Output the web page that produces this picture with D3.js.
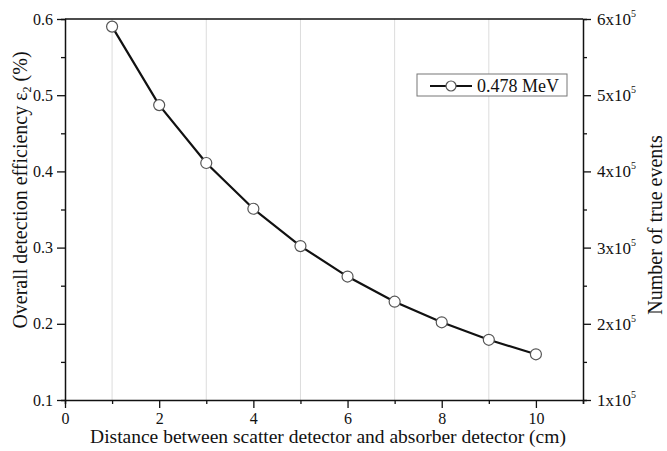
<!DOCTYPE html>
<html>
<head>
<meta charset="utf-8">
<script src="https://cdn.jsdelivr.net/npm/d3@7"></script>
<style>
  body { margin: 0; background: #fff; }
  svg text { font-family: "Liberation Serif", "Times New Roman", serif; fill: #111; }
</style>
</head>
<body>
<svg id="chart" width="667" height="451"></svg>
<script>
// distance (cm) vs overall efficiency (%)
var distances = [ 1, 2, 3, 4, 5, 6, 7, 8, 9, 10 ];
var efficiency = [ 0.590, 0.487, 0.411, 0.351, 0.302, 0.262, 0.229, 0.202, 0.179, 0.160 ];
var series_name = "0.478 MeV";
var x_ticks = [ 0, 2, 4, 6, 8, 10 ];
var y_ticks = [ 0.1, 0.2, 0.3, 0.4, 0.5, 0.6 ];
var right_ticks = [ 1, 2, 3, 4, 5, 6 ];   // x10^5

var MARGIN = { left: 65, right: 84, top: 19, bottom: 51 };
var width = 667, height = 451;

var svg = d3.select( "#chart" );

var x = d3.scaleLinear().domain( [ 0, 11 ] ).range( [ MARGIN.left, width - MARGIN.right ] );
var y = d3.scaleLinear().domain( [ 0.1, 0.6 ] ).range( [ height - MARGIN.bottom, MARGIN.top ] );
var y2 = d3.scaleLinear().domain( [ 1, 6 ] ).range( [ height - MARGIN.bottom, MARGIN.top ] );

// light grid at odd x
svg.append( "g" ).selectAll( "line" )
  .data( [ 1, 3, 5, 7, 9 ] )
  .enter().append( "line" )
  .attr( "x1", function( d ){ return x( d ); } )
  .attr( "x2", function( d ){ return x( d ); } )
  .attr( "y1", y( 0.6 ) )
  .attr( "y2", y( 0.1 ) )
  .attr( "stroke", "#dcdcdc" )
  .attr( "stroke-width", 1 );

// axes: minor ticks first, then majors with labels
var minor_x = d3.range( 1, 11.01, 2 );
var minor_y = d3.range( 0.15, 0.6, 0.1 );
var minor_r = d3.range( 1.5, 6, 1 );

var xAxis = svg.append( "g" )
  .attr( "transform", "translate(0," + y( 0.1 ) + ")" )
  .call( d3.axisBottom( x ).tickValues( minor_x ).tickSize( 4 ).tickFormat( "" ) );
xAxis.append( "g" ).call( d3.axisBottom( x ).tickValues( x_ticks ).tickSize( 8 ).tickPadding( 5 ).tickFormat( d3.format( "d" ) ) )
  .call( function( g ){ g.select( ".domain" ).remove(); } );

var yAxis = svg.append( "g" )
  .attr( "transform", "translate(" + x( 0 ) + ",0)" )
  .call( d3.axisLeft( y ).tickValues( minor_y ).tickSize( 4 ).tickFormat( "" ) );
yAxis.append( "g" ).call( d3.axisLeft( y ).tickValues( y_ticks ).tickSize( 8 ).tickPadding( 4 ).tickFormat( d3.format( ".1f" ) ) )
  .call( function( g ){ g.select( ".domain" ).remove(); } );

var rAxis = svg.append( "g" )
  .attr( "transform", "translate(" + x( 11 ) + ",0)" )
  .call( d3.axisRight( y2 ).tickValues( minor_r ).tickSize( 4 ).tickFormat( "" ) );
rAxis.append( "g" ).call( d3.axisRight( y2 ).tickValues( right_ticks ).tickSize( 8 ).tickFormat( "" ) )
  .call( function( g ){ g.select( ".domain" ).remove(); } );

svg.selectAll( ".domain" ).attr( "stroke", "#111" ).attr( "stroke-width", 1.5 );
svg.selectAll( ".tick line" ).attr( "stroke", "#111" ).attr( "stroke-width", 1.3 );
svg.selectAll( ".tick text" ).style( "font-size", "16px" ).attr( "fill", "#111" );

// top frame line
svg.append( "line" )
  .attr( "x1", x( 0 ) ).attr( "x2", x( 11 ) )
  .attr( "y1", y( 0.6 ) ).attr( "y2", y( 0.6 ) )
  .attr( "stroke", "#111" ).attr( "stroke-width", 1.5 );

// right tick labels with superscript
var rlab = svg.append( "g" ).selectAll( "text" )
  .data( right_ticks )
  .enter().append( "text" )
  .attr( "x", x( 11 ) + 14 )
  .attr( "y", function( d ){ return y2( d ) + 6; } )
  .style( "font-size", "17px" );
rlab.append( "tspan" ).text( function( d ){ return d + "x10"; } );
rlab.append( "tspan" ).attr( "dy", -8 ).style( "font-size", "10px" ).text( "5" );

// line + markers
var line = d3.line()
  .x( function( d, i ){ return x( distances[ i ] ); } )
  .y( function( d ){ return y( d ); } );

svg.append( "path" )
  .datum( efficiency )
  .attr( "d", line )
  .attr( "fill", "none" )
  .attr( "stroke", "#111" )
  .attr( "stroke-width", 2.2 );

svg.append( "g" ).selectAll( "circle" )
  .data( efficiency )
  .enter().append( "circle" )
  .attr( "cx", function( d, i ){ return x( distances[ i ] ); } )
  .attr( "cy", function( d ){ return y( d ); } )
  .attr( "r", 5.5 )
  .attr( "fill", "#fff" )
  .attr( "stroke", "#555" )
  .attr( "stroke-width", 1.2 );

// legend
var legend = svg.append( "g" ).attr( "transform", "translate(417,74)" );
legend.append( "rect" )
  .attr( "width", 150 ).attr( "height", 22 )
  .attr( "fill", "#fff" ).attr( "stroke", "#777" ).attr( "stroke-width", 1 );
legend.append( "line" )
  .attr( "x1", 13 ).attr( "x2", 55 ).attr( "y1", 12 ).attr( "y2", 12 )
  .attr( "stroke", "#111" ).attr( "stroke-width", 2.2 );
legend.append( "circle" )
  .attr( "cx", 34 ).attr( "cy", 12 ).attr( "r", 5 )
  .attr( "fill", "#fff" ).attr( "stroke", "#555" ).attr( "stroke-width", 1.2 );
legend.append( "text" )
  .attr( "x", 60 ).attr( "y", 18 )
  .style( "font-size", "18px" )
  .text( series_name );

// axis titles
svg.append( "text" )
  .attr( "x", 328 )
  .attr( "y", 443 )
  .attr( "text-anchor", "middle" )
  .style( "font-size", "19.5px" )
  .text( "Distance between scatter detector and absorber detector (cm)" );

var ylab = svg.append( "text" )
  .attr( "transform", "translate(27,190) rotate(-90)" )
  .attr( "text-anchor", "middle" )
  .style( "font-size", "20px" );
ylab.append( "tspan" ).text( "Overall detection efficiency ε" );
ylab.append( "tspan" ).attr( "dy", 4 ).style( "font-size", "12px" ).text( "2" );
ylab.append( "tspan" ).attr( "dy", -4 ).text( " (%)" );

svg.append( "text" )
  .attr( "transform", "translate(662,225) rotate(-90)" )
  .attr( "text-anchor", "middle" )
  .style( "font-size", "20px" )
  .text( "Number of true events" );
</script>
</body>
</html>
